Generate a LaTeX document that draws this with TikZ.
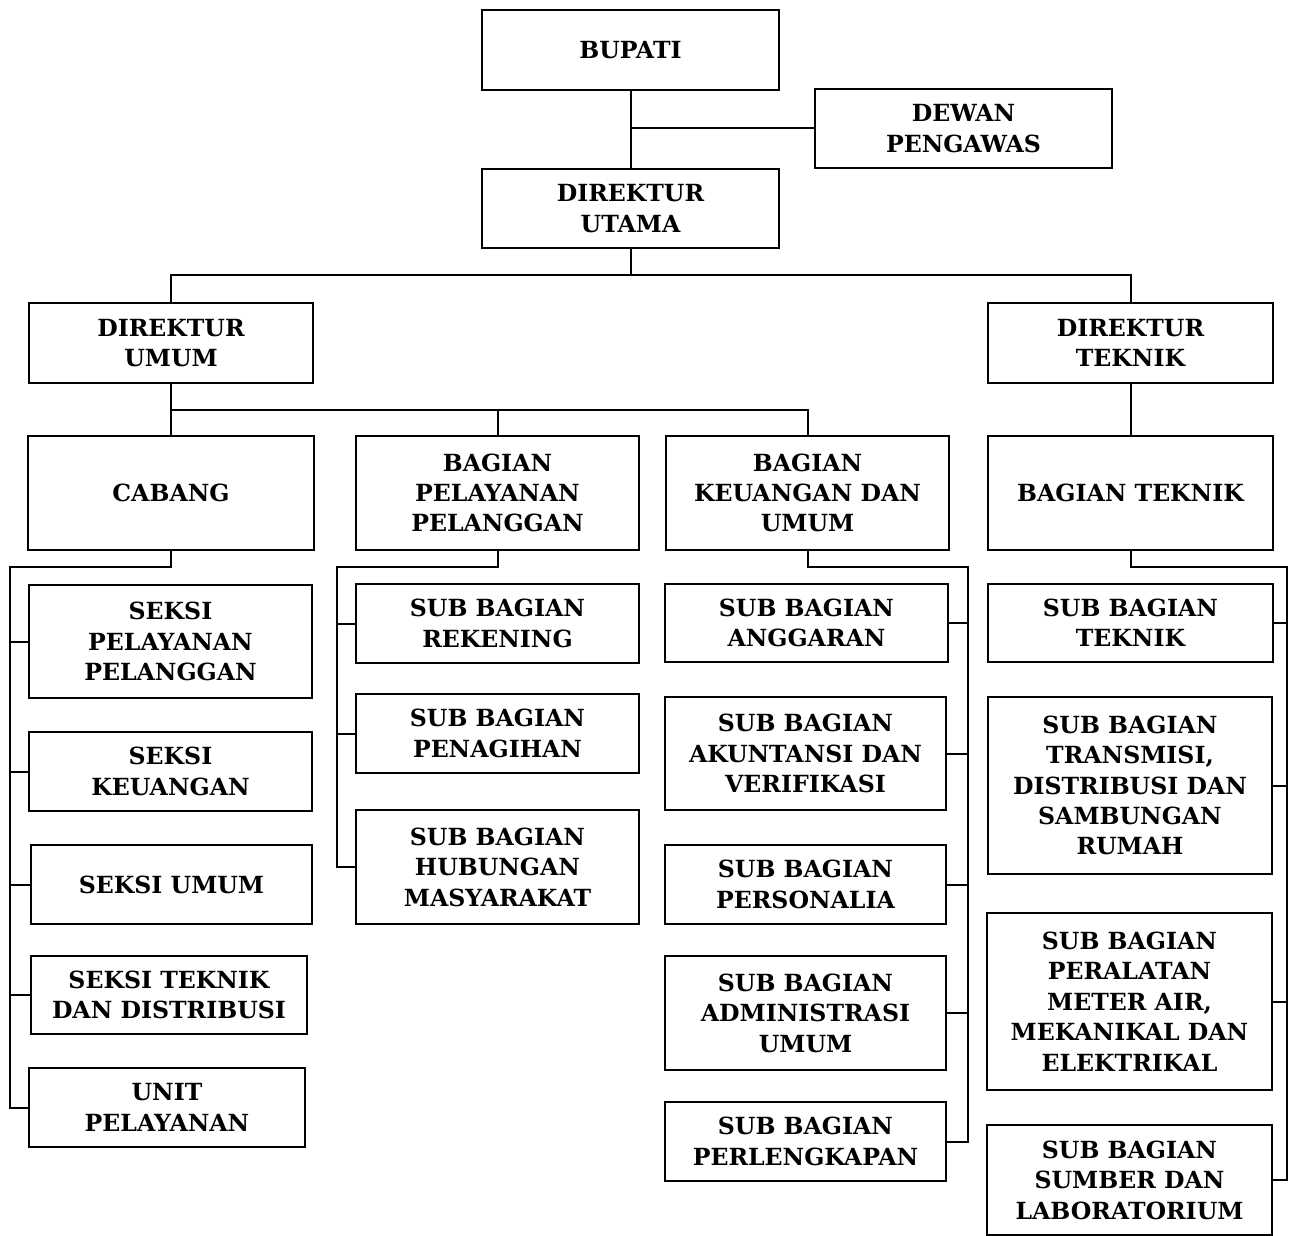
\documentclass[tikz,border=0pt]{standalone}
\usepackage{fontspec}
\setmainfont{DejaVu Serif}
\usepackage{tikz}
\usetikzlibrary{positioning}

\tikzset{
  unit/.style={draw,line width=1pt,align=center,inner sep=0pt,
    font=\bfseries\fontsize{11.8}{15.2}\selectfont},
  sz/.style 2 args={minimum width=#1*0.5pt,minimum height=#2*0.5pt},
  link/.style={line width=1pt}
}

\begin{document}
\begin{tikzpicture}[x=0.5pt,y=-0.5pt,line join=miter]
      \useasboundingbox (0,0) rectangle (1290,1236);
      % top level
      \node[unit,sz={297}{80}] (bupati) at (630.5,50) {BUPATI};
      \node[unit,sz={297}{79}] (dewan) at (963.5,128.5) {DEWAN\\PENGAWAS};
      \node[unit,sz={297}{79}] (dirut) at (630.5,208.5) {DIREKTUR\\UTAMA};
      \node[unit,sz={284}{80}] (dirumum) at (171,343) {DIREKTUR\\UMUM};
      \node[unit,sz={285}{80}] (dirtek) at (1130.5,343) {DIREKTUR\\TEKNIK};
      % bagian
      \node[unit,sz={286}{114}] (cabang) at (171,493) {CABANG};
      \node[unit,sz={283}{114}] (bpp) at (497.5,493) {BAGIAN\\PELAYANAN\\PELANGGAN};
      \node[unit,sz={283}{114}] (bku) at (807.5,493) {BAGIAN\\KEUANGAN DAN\\UMUM};
      \node[unit,sz={285}{114}] (btek) at (1130.5,493) {BAGIAN TEKNIK};
      % seksi cabang
      \node[unit,sz={283}{113}] (s1) at (170.5,641.5) {SEKSI\\PELAYANAN\\PELANGGAN};
      \node[unit,sz={283}{79}] (s2) at (170.5,771.5) {SEKSI\\KEUANGAN};
      \node[unit,sz={281}{79}] (s3) at (171.5,884.5) {SEKSI UMUM};
      \node[unit,sz={276}{78}] (s4) at (169,995) {SEKSI TEKNIK\\DAN DISTRIBUSI};
      \node[unit,sz={276}{79}] (s5) at (167,1107.5) {UNIT\\PELAYANAN};
      % sub bagian pelayanan
      \node[unit,sz={283}{79}] (p1) at (497.5,623.5) {SUB BAGIAN\\REKENING};
      \node[unit,sz={283}{79}] (p2) at (497.5,733.5) {SUB BAGIAN\\PENAGIHAN};
      \node[unit,sz={283}{114}] (p3) at (497.5,867) {SUB BAGIAN\\HUBUNGAN\\MASYARAKAT};
      % sub bagian keuangan
      \node[unit,sz={283}{78}] (k1) at (806.5,623) {SUB BAGIAN\\ANGGARAN};
      \node[unit,sz={281}{113}] (k2) at (805.5,753.5) {SUB BAGIAN\\AKUNTANSI DAN\\VERIFIKASI};
      \node[unit,sz={281}{79}] (k3) at (805.5,884.5) {SUB BAGIAN\\PERSONALIA};
      \node[unit,sz={281}{114}] (k4) at (805.5,1013) {SUB BAGIAN\\ADMINISTRASI\\UMUM};
      \node[unit,sz={281}{79}] (k5) at (805.5,1141.5) {SUB BAGIAN\\PERLENGKAPAN};
      % sub bagian teknik
      \node[unit,sz={285}{78}] (t1) at (1130.5,623) {SUB BAGIAN\\TEKNIK};
      \node[unit,sz={284}{177}] (t2) at (1130,785.5) {SUB BAGIAN\\TRANSMISI,\\DISTRIBUSI DAN\\SAMBUNGAN\\RUMAH};
      \node[unit,sz={285}{177}] (t3) at (1129.5,1001.5) {SUB BAGIAN\\PERALATAN\\METER AIR,\\MEKANIKAL DAN\\ELEKTRIKAL};
      \node[unit,sz={285}{110}] (t4) at (1129.5,1180) {SUB BAGIAN\\SUMBER DAN\\LABORATORIUM};
      % connectors
      \coordinate (bus1) at (630.5,275);
      \coordinate (bus2) at (497.5,410);
      \coordinate (cspine) at (10,567);
      \coordinate (pspine) at (337,567);
      \coordinate (kspine) at (968,567);
      \coordinate (tspine) at (1287,567);
      \draw[link] (bupati) -- (dirut);
      \draw[link] (dewan.west) -- (dewan.west -| bupati.south);
      \draw[link] (dirut.south) -- (bus1);
      \draw[link] (dirumum.north) |- (bus1) -| (dirtek.north);
      \draw[link] (dirumum) -- (cabang);
      \draw[link] (cabang.north |- bus2) -| (bku.north);
      \draw[link] (bpp.north) -- (bpp.north |- bus2);
      \draw[link] (dirtek) -- (btek);
      \draw[link] (cabang.south) |- (cspine) |- (s5.west);
      \foreach \n in {s1,s2,s3,s4}
      \draw[link] (\n.west) -- (\n.west -| cspine);
      \draw[link] (bpp.south) |- (pspine) |- (p3.west);
      \foreach \n in {p1,p2}
      \draw[link] (\n.west) -- (\n.west -| pspine);
      \draw[link] (bku.south) |- (kspine) |- (k5.east);
      \foreach \n in {k1,k2,k3,k4}
      \draw[link] (\n.east) -- (\n.east -| kspine);
      \draw[link] (btek.south) |- (tspine) |- (t4.east);
      \foreach \n in {t1,t2,t3}
      \draw[link] (\n.east) -- (\n.east -| tspine);
    \end{tikzpicture}
\end{document}
